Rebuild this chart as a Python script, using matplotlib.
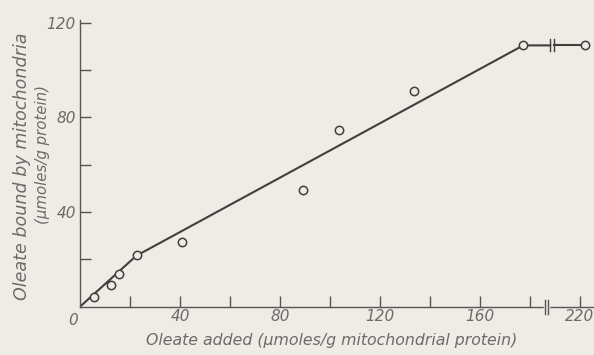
import numpy as np
import matplotlib.pyplot as plt

# oleate added vs oleate bound (umoles/g protein)
oleate_added = [5.7, 12.4, 15.6, 22.7, 40.7, 89.3, 103.7, 133.7, 177.3, 222]
oleate_bound = [4.2, 9.0, 13.9, 21.7, 27.3, 49.3, 74.5, 91.0, 110.4, 110.4]

# drawn curve
curve_x = [0, 22.5, 177.3, 188.1]
curve_y = [0, 21.5, 110.4, 110.4]
tail_x = [189.5, 222]
tail_y = [110.4, 110.4]

x_ticks = [20, 40, 60, 80, 100, 120, 140, 160, 180, 220]
x_labels = ['', '40', '', '80', '', '120', '', '160', '', '220']
y_ticks = [20, 40, 60, 80, 100, 120]
y_labels = ['', '40', '', '80', '', '120']

BREAK = 195     # everything above is pulled left by SHIFT
SHIFT = 20


def pos(x):
    x = np.asarray(x, dtype=float)
    return np.where(x > BREAK, x - SHIFT, x)


bg = '#efece5'
ink = '#3f3f3f'
txt = '#6b6b6b'

plt.rcParams['font.family'] = ['DejaVu Sans']
plt.rcParams['font.style'] = 'italic'

fig = plt.figure(figsize=(5.94, 3.55), dpi=100, facecolor=bg)
ax = fig.add_axes([80 / 594, 48.3 / 355, 515 / 594, 286.4 / 355])
ax.set_facecolor(bg)

ax.plot(pos(curve_x), curve_y, color=ink, lw=1.5, zorder=2)
ax.plot(pos(tail_x), tail_y, color=ink, lw=1.5, zorder=2)
ax.plot(pos(oleate_added), oleate_bound, 'o', ms=6, mfc=bg, mec=ink,
        mew=1.1, zorder=3, clip_on=False)

# break marks on the curve
for bx in [188.1, 189.5]:
    ax.plot([bx, bx], [108.0, 113.0], color=ink, lw=1.0, zorder=2)

ax.set_xlim(0, 206)
ax.set_ylim(0, 121)

for s in ['top', 'right']:
    ax.spines[s].set_visible(False)
for s in ['left', 'bottom']:
    ax.spines[s].set_color('#555555')
    ax.spines[s].set_linewidth(1.0)

ax.set_xticks(pos(x_ticks))
ax.set_xticklabels(x_labels)
ax.set_yticks(y_ticks)
ax.set_yticklabels(y_labels)
ax.tick_params(direction='in', length=8, width=1.0, color='#555555',
               labelcolor=txt, labelsize=11)
ax.tick_params(axis='x', pad=2)
ax.tick_params(axis='y', pad=3)

# break in the x axis
ax.plot([186.0, 187.2], [0, 0], color=bg, lw=2.5, zorder=5, clip_on=False)
for bx in [186.0, 187.2]:
    ax.plot([bx, bx], [-3.0, 3.0], color='#555555', lw=1.0, zorder=6,
            clip_on=False)

ax.text(-2.8, -2.8, '0', color=txt, fontsize=11, ha='center', va='top')

fig.text(332 / 594, 1 - 340 / 355,
         'Oleate added (\u03bcmoles/g mitochondrial protein)',
         color=txt, fontsize=11.3, ha='center', va='center')
fig.text(22 / 594, 1 - 166 / 355, 'Oleate bound by mitochondria',
         color=txt, fontsize=12.6, ha='center', va='center', rotation=90)
fig.text(43 / 594, 1 - 155 / 355, '(\u03bcmoles/g protein)',
         color=txt, fontsize=10.8, ha='center', va='center', rotation=90)

fig.savefig('out.png', dpi=100, facecolor=bg)
